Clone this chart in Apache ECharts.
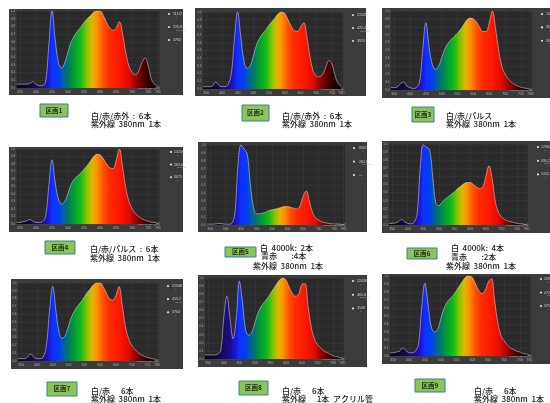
<!DOCTYPE html>
<html><head><meta charset="utf-8">
<style>html,body{margin:0;padding:0;background:#fff;overflow:hidden}#c{width:550px;height:403px}</style>
<script src="https://cdn.jsdelivr.net/npm/echarts@6/dist/echarts.min.js"></script>
</head><body><div id="c"></div>
<script>
const wavelengths=[340,350,360,370,380,390,400,410,420,430,440,450,460,470,480,490,500,510,520,530,540,550,560,570,580,590,600,610,620,630,640,650,660,670,680,690,700,710,720,730,740,750,760,770,780];
const zone1=[.05,.05,.05,.05,.06,.08,.05,.03,.03,.08,.55,1,.63,.33,.26,.33,.47,.6,.68,.74,.79,.85,.9,.94,.985,1,1,.94,.85,.78,.75,.78,.86,.7,.46,.285,.2,.17,.22,.33,.39,.285,.11,.045,.02];
const zone2=[.03,.03,.03,.04,.09,.05,.03,.03,.06,.2,.65,1,.68,.37,.27,.3,.43,.57,.66,.72,.77,.83,.88,.93,.98,1,.98,.9,.82,.76,.75,.8,.86,.68,.42,.24,.17,.16,.19,.28,.37,.32,.17,.07,.03];
const zone3=[.03,.03,.04,.08,.1,.05,.03,.02,.03,.1,.5,.85,.55,.33,.26,.3,.41,.52,.59,.64,.68,.72,.77,.83,.89,.91,.9,.86,.79,.74,.74,.85,1,.78,.5,.3,.2,.14,.1,.07,.05,.035,.025,.02,.01];
const zone4=[.02,.02,.03,.04,.06,.04,.02,.02,.03,.1,.5,.855,.55,.33,.265,.3,.41,.53,.6,.64,.68,.73,.78,.84,.9,.93,.92,.87,.8,.75,.74,.85,1,.76,.48,.3,.2,.14,.1,.07,.05,.035,.025,.02,.01];
const zone5=[.01,.01,.01,.015,.02,.015,.01,.01,.02,.15,.75,1,.95,.88,.5,.22,.14,.14,.15,.16,.18,.19,.2,.21,.22,.23,.23,.22,.21,.2,.24,.36,.425,.3,.16,.09,.06,.04,.03,.02,.015,.012,.01,.008,.005];
const zone6=[.02,.02,.025,.04,.07,.04,.02,.015,.03,.14,.7,.99,.96,.93,.6,.27,.24,.28,.32,.35,.38,.41,.45,.48,.51,.525,.525,.5,.47,.45,.47,.6,.73,.58,.3,.16,.1,.07,.05,.04,.03,.02,.015,.01,.005];
const zone7=[.03,.03,.03,.05,.09,.05,.03,.03,.05,.2,.65,.955,.65,.37,.29,.33,.45,.57,.65,.71,.76,.82,.88,.93,.98,1,1,.95,.87,.8,.78,.84,.955,.72,.45,.29,.2,.15,.11,.08,.06,.045,.035,.025,.02];
const zone8=[.05,.05,.05,.05,.06,.1,.5,.775,.5,.25,.5,.96,.7,.36,.295,.33,.45,.57,.65,.7,.75,.81,.87,.93,.98,1,.97,.88,.81,.775,.8,.92,.93,.65,.4,.25,.18,.14,.1,.08,.06,.04,.03,.02,.01];
const zone9=[.04,.04,.05,.06,.1,.07,.04,.04,.06,.15,.6,.91,.65,.37,.3,.33,.46,.59,.67,.72,.76,.82,.88,.94,.99,1,.98,.9,.82,.78,.82,.92,.97,.7,.42,.26,.19,.14,.1,.08,.06,.05,.03,.025,.015];
const zones=[zone1,zone2,zone3,zone4,zone5,zone6,zone7,zone8,zone9];
const xTicks=[350,400,450,500,550,600,650,700,750,780];
const zoneNames=["区画1","区画2","区画3","区画4","区画5","区画6","区画7","区画8","区画9"];
const readings=[["11112","215.8","3792"],["21525","422.4","3915"],["14263","301.6","3950"],["13258","263.6","3675"],["8587","262.6","—"],["17082","435.2","5192"],["21548","453.2","3764"],["22438","465.8","3508"],["20935","472.1","3756"]];
const captions=[
 [["白/赤/赤外  :  6本",91,116],["紫外線  380nm  1本",91,124]],
 [["白/赤/赤外  :  6本",282,116],["紫外線  380nm  1本",282,124]],
 [["白/赤/パルス",446,116],["紫外線  380nm  1本",446,124]],
 [["白/赤/パルス  :  6本",90,249],["紫外線  380nm  1本",90,258]],
 [["白  4000k:  2本",260,248],["青赤        :4本",261,256],["紫外線  380nm  1本",253,266]],
 [["白  4000k:  4本",451,248],["青赤        :2本",451,257],["紫外線  380nm  1本",446,266]],
 [["白/赤      6本",91,391],["紫外線  380nm  1本",91,399]],
 [["白/赤      6本",282,391],["紫外線      1本  アクリル管",282,399]],
 [["白/赤      6本",474,391],["紫外線  380nm  1本",474,399]]
];
const spectrumNm=[340,380,420,440,450,470,485,500,520,540,560,575,590,610,630,660,690,710,730,750,780];
const spectrumColors=["#08041c","#140a3c","#1c0c90","#1a18e0","#1030ff","#0040f0","#0060a8","#007a60","#00a030","#14bc18","#90c400","#e0b800","#ff9000","#ff5000","#ff2a00","#ff1800","#e00a00","#a00000","#600000","#300000","#0c0000"];

// layout: outer panel, plot, label box [x0,y0,x1,y1]; i = readout icon x, r = readout text x
const layout=[
 {o:[9,9,183,95],p:[16.7,11,159.5,88],b:[40,104,68,117],i:169,r:173},
 {o:[195,8,366,96],p:[203,12,343,89],b:[242,105,269,121],i:353,r:357},
 {o:[382,8,550,98],p:[391,11,532,90],b:[412,107,434,122],i:542,r:546},
 {o:[9,147,183,232],p:[16.7,149,159.5,224],b:[45,241,75,254],i:171,r:174},
 {o:[198,142,367,232],p:[207,145,345,225],b:[225,247,256,257],i:354,r:359},
 {o:[382,141,550,233],p:[389,144,528,225],b:[407,248,437,259],i:538,r:541},
 {o:[11,279,183,369],p:[18,283,158.5,361],b:[47,382,77,396],i:168,r:172},
 {o:[198,275,367,367],p:[205,278,344,359],b:[239,381,268,395],i:353,r:357},
 {o:[382,274,550,364],p:[390,276,531,356],b:[415,379,445,392],i:541,r:544}
];
const grad={type:'linear',x:0,y:0,x2:1,y2:0,colorStops:spectrumNm.map((n,i)=>({offset:(n-340)/440,color:spectrumColors[i]}))};
const grids=[],xAxes=[],yAxes=[],series=[],graphics=[];
const lbl='#b0b0b0',JP='"Noto Sans CJK JP",sans-serif';
layout.forEach((l,i)=>{
 graphics.push({type:'rect',z:-5,shape:{x:l.o[0],y:l.o[1],width:l.o[2]-l.o[0],height:l.o[3]-l.o[1]},style:{fill:'#3b3b3b'}});
 graphics.push({type:'rect',z:-4,shape:{x:l.p[0],y:l.p[1],width:l.p[2]-l.p[0],height:l.p[3]-l.p[1]},style:{fill:'#2a2a2a'}});
 grids.push({left:l.p[0],top:l.p[1],width:l.p[2]-l.p[0],height:l.p[3]-l.p[1]});
 xAxes.push({type:'value',gridIndex:i,min:340,max:785,
  name:'Wavelength [nm]',nameLocation:'end',nameGap:-22,nameTextStyle:{color:lbl,fontSize:3,padding:[11,0,0,0]},
  axisLine:{show:false},axisTick:{show:false,customValues:xTicks},
  splitLine:{show:true,lineStyle:{color:'rgba(255,255,255,0.08)',width:.5}},
  axisLabel:{customValues:xTicks,color:lbl,fontSize:3.5,margin:2.5,formatter:v=>String(v)}});
 yAxes.push({type:'value',gridIndex:i,min:0,max:1,interval:.1,
  axisLine:{show:false},axisTick:{show:false},
  splitLine:{show:true,lineStyle:{color:'rgba(255,255,255,0.08)',width:.5}},
  axisLabel:{color:lbl,fontSize:3,margin:1.5,formatter:v=>v.toFixed(1)}});
 series.push({type:'line',xAxisIndex:i,yAxisIndex:i,smooth:.4,symbol:'none',clip:true,
  lineStyle:{color:'rgba(255,235,235,0.6)',width:.8},areaStyle:{color:grad,opacity:1},
  data:wavelengths.map((w,k)=>[w,zones[i][k]])});
 const h=l.p[3]-l.p[1];
 ['lx','μmol/m²s','K'].forEach((u,k)=>{
  const y=l.p[1]+[2,15,28][k]/77*h;
  graphics.push({type:'circle',shape:{cx:l.i,cy:y+1,r:1.1},style:{fill:'#dcdcdc'}});
  graphics.push({type:'text',style:{x:l.r,y:y-1,text:readings[i][k],fill:'#d0d0d0',font:'3.6px "Liberation Sans"'}});
  graphics.push({type:'text',style:{x:l.r+3,y:y+3,text:u,fill:'#a0a0a0',font:'2.2px "Liberation Sans"'}});
 });
 graphics.push({type:'rect',shape:{x:l.b[0],y:l.b[1],width:l.b[2]-l.b[0],height:l.b[3]-l.b[1]},style:{fill:'#8cc45a',stroke:'#3f7f8f',lineWidth:1}});
 graphics.push({type:'text',style:{x:(l.b[0]+l.b[2])/2,y:(l.b[1]+l.b[3])/2,text:zoneNames[i],align:'center',verticalAlign:'middle',fill:'#1c2a12',font:'bold 6.5px '+JP}});
 captions[i].forEach(c=>graphics.push({type:'text',style:{x:c[1],y:c[2],text:c[0],verticalAlign:'middle',fill:'#1a1a1a',font:'500 8px '+JP}}));
});
const chart=echarts.init(document.getElementById('c'),null,{renderer:'canvas',width:550,height:403});
chart.setOption({animation:false,backgroundColor:'#fff',grid:grids,xAxis:xAxes,yAxis:yAxes,series:series,graphic:{elements:graphics}});
</script></body></html>
